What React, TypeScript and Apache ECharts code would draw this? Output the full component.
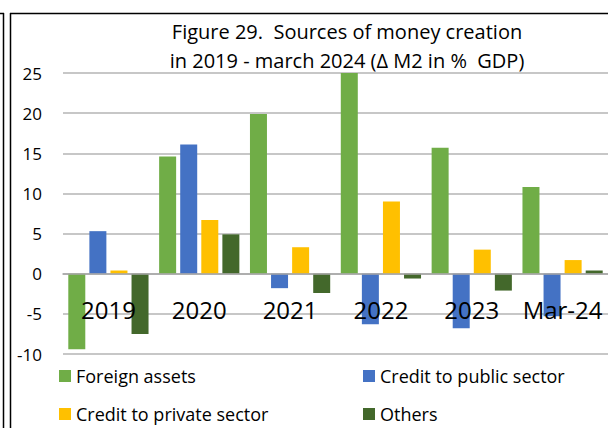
import React, { useEffect, useRef } from "react";
import * as echarts from "echarts";

const categories = ["2019", "2020", "2021", "2022", "2023", "Mar-24"];
const foreignAssets = [-9.4, 14.6, 19.9, 25.0, 15.7, 10.8];
const creditPublic = [5.3, 16.1, -1.8, -6.3, -6.8, -5.3];
const creditPrivate = [0.4, 6.7, 3.3, 9.0, 3.0, 1.7];
const others = [-7.5, 4.9, -2.4, -0.6, -2.1, 0.4];
const seriesNames = ["Foreign assets", "Credit to public sector", "Credit to private sector", "Others"];
const colors = ["#70AD47", "#4472C4", "#FFC000", "#43682B"];

const FONT = "Open Sans";

export default function App() {
  const ref = useRef<HTMLDivElement>(null);
  useEffect(() => {
    document.body.style.margin = "0";
    const chart = echarts.init(ref.current!, null, { renderer: "svg" });
    const data = [foreignAssets, creditPublic, creditPrivate, others];
    const legendPos = [
      { left: 59, top: 367 },
      { left: 363, top: 367 },
      { left: 59, top: 405 },
      { left: 363, top: 405 },
    ];
    chart.setOption({
      animation: false,
      backgroundColor: "#ffffff",
      title: {
        text: "Figure 29.  Sources of money creation\nin 2019 - march 2024 (Δ M2 in %  GDP)",
        left: 347,
        top: 17,
        textAlign: "center",
        padding: 0,
        textStyle: {
          fontFamily: FONT,
          fontSize: 20,
          fontWeight: "normal",
          color: "#000000",
          lineHeight: 29,
        },
      },
      legend: seriesNames.map((n, i) => ({
        data: [n],
        left: legendPos[i].left,
        top: legendPos[i].top,
        padding: 0,
        icon: "rect",
        itemWidth: 12,
        itemHeight: 12,
        textStyle: { fontFamily: FONT, fontSize: 18, color: "#000000" },
      })),
      grid: { left: 63, right: -7, top: 73, bottom: 74, containLabel: false },
      xAxis: {
        type: "category",
        data: categories,
        offset: -80,
        z: 5,
        axisLine: { onZero: false, lineStyle: { color: "#a6a6a6", width: 1.5 } },
        axisTick: { show: false },
        axisLabel: { fontFamily: FONT, fontSize: 24, color: "#000000", margin: 23, interval: 0 },
        splitLine: { show: false },
      },
      yAxis: {
        type: "value",
        min: -10,
        max: 25,
        interval: 5,
        axisLine: { show: false },
        axisTick: { show: false },
        axisLabel: { fontFamily: FONT, fontSize: 17, color: "#000000", margin: 21 },
        splitLine: { lineStyle: { color: "#b4b4b4", width: 1.5 } },
      },
      series: seriesNames.map((n, i) => ({
        name: n,
        type: "bar",
        data: data[i],
        barWidth: 17,
        barGap: "24%",
        itemStyle: { color: colors[i] },
      })),
      graphic: [
        { type: "line", shape: { x1: 3.5, y1: 13, x2: 3.5, y2: 428 }, style: { stroke: "#000", lineWidth: 1.5 } },
        { type: "line", shape: { x1: 0, y1: 13.5, x2: 4, y2: 13.5 }, style: { stroke: "#000", lineWidth: 1.5 } },
        { type: "line", shape: { x1: 10.5, y1: 13, x2: 10.5, y2: 428 }, style: { stroke: "#000", lineWidth: 1.5 } },
        { type: "line", shape: { x1: 10, y1: 13.5, x2: 608, y2: 13.5 }, style: { stroke: "#000", lineWidth: 1.5 } },
      ],
    });
    return () => chart.dispose();
  }, []);
  return <div ref={ref} style={{ width: 608, height: 428 }} />;
}
